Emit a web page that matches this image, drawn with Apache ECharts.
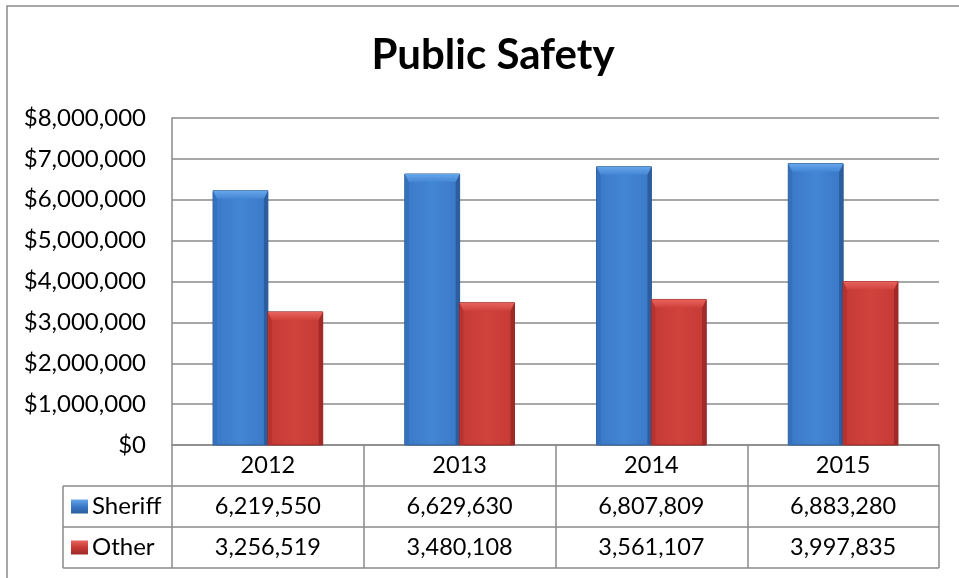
<!DOCTYPE html>
<html>
<head>
<meta charset="utf-8">
<title>Public Safety</title>
<script src="https://cdn.jsdelivr.net/npm/echarts@6/dist/echarts.min.js"></script>
<style>
  html, body { margin: 0; padding: 0; background: #ffffff; }
  #chart { width: 959px; height: 578px; }
</style>
</head>
<body>
<div id="chart"></div>
<script>
// Budget by year
const years = ['2012', '2013', '2014', '2015'];
const seriesNames = ['Sheriff', 'Other'];
const sheriff = [6219550, 6629630, 6807809, 6883280];
const other = [3256519, 3480108, 3561107, 3997835];

// Value axis ticks
const yMin = 0;
const yMax = 8000000;
const yStep = 1000000;

// Layout
const W = 959, H = 578;
const PLOT_LEFT = 172, PLOT_RIGHT = 939, PLOT_TOP = 118, PLOT_BOTTOM = 445;
const ROW_H = 41;
const ROW_HEAD_LEFT = 63;
const FONT = 'Lato, "Open Sans", sans-serif';
const LINE = '#8a8a8a';
const BAR_FRACTION = 0.286;

const fmt = v => v.toLocaleString('en-US');

const palettes = {
  Sheriff: { face: '#3a78c6', faceLight: '#4386d4', left: '#3470bb', right: '#2c5e9f', top: '#66a6ea', edge: '#2b5a93' },
  Other:   { face: '#c53a35', faceLight: '#d0423c', left: '#b8332f', right: '#9f2a27', top: '#e8645e', edge: '#8e2622' }
};

function lin(x1, y1, x2, y2, stops) {
  return { type: 'linear', x: x1, y: y1, x2: x2, y2: y2,
    colorStops: stops.map((c, i) => ({ offset: i / (stops.length - 1), color: c })) };
}

// Bevelled column, placed through the category/value scales
function bevelBar(side, p) {
  return function (params, api) {
    const idx = api.value(0);
    const val = api.value(1);
    const base = api.coord([idx, 0]);
    const top = api.coord([idx, val]);
    const band = api.size([1, 0])[0];
    const w = band * BAR_FRACTION;
    const x = side < 0 ? base[0] - w : base[0];
    const y = top[1];
    const s = 4;   // side bevel
    const t = 8;   // top bevel
    return {
      type: 'group',
      children: [
        { type: 'rect', shape: { x: x, y: y, width: w, height: base[1] - y },
          style: { fill: lin(0, 0, 1, 0, [p.face, p.faceLight, p.face]), stroke: p.edge, lineWidth: 1 } },
        { type: 'polygon', shape: { points: [[x, y], [x + s, y + t], [x + s, base[1]], [x, base[1]]] },
          style: { fill: p.left } },
        { type: 'polygon', shape: { points: [[x + w, y], [x + w - s, y + t], [x + w - s, base[1]], [x + w, base[1]]] },
          style: { fill: p.right } },
        { type: 'polygon', shape: { points: [[x, y], [x + w, y], [x + w - s, y + t], [x + s, y + t]] },
          style: { fill: lin(0, 0, 0, 1, [p.top, p.faceLight]) } }
      ]
    };
  };
}

// Data table rules under the plot
const tableLines = [];
for (let r = 1; r <= 3; r++) {
  tableLines.push({ type: 'line', silent: true,
    shape: { x1: ROW_HEAD_LEFT, y1: PLOT_BOTTOM + r * ROW_H, x2: PLOT_RIGHT, y2: PLOT_BOTTOM + r * ROW_H },
    style: { stroke: LINE, lineWidth: 1.5 } });
}
tableLines.push({ type: 'line', silent: true,
  shape: { x1: ROW_HEAD_LEFT, y1: PLOT_BOTTOM + ROW_H, x2: ROW_HEAD_LEFT, y2: PLOT_BOTTOM + 3 * ROW_H },
  style: { stroke: LINE, lineWidth: 1.5 } });

const chart = echarts.init(document.getElementById('chart'), null, { renderer: 'canvas' });

chart.setOption({
  backgroundColor: '#ffffff',
  animation: false,
  title: {
    text: 'Public Safety',
    left: 488,
    textAlign: 'center',
    top: 29,
    textStyle: { fontFamily: FONT, fontWeight: 'bold', fontSize: 42, color: '#000000' }
  },
  legend: {
    orient: 'vertical',
    left: ROW_HEAD_LEFT + 8,
    top: PLOT_BOTTOM + ROW_H + 8,
    padding: 0,
    itemWidth: 17,
    itemHeight: 14,
    itemGap: ROW_H - 25,
    selectedMode: false,
    textStyle: { fontFamily: FONT, fontSize: 24, color: '#000000', lineHeight: 25, padding: [0, 0, 0, -1] },
    data: seriesNames.map(n => ({
      name: n, icon: 'rect',
      itemStyle: { color: lin(0, 0, 0, 1, [palettes[n].top, palettes[n].face, palettes[n].right]) }
    }))
  },
  grid: {
    left: PLOT_LEFT, right: W - PLOT_RIGHT, top: PLOT_TOP, bottom: H - PLOT_BOTTOM,
    containLabel: false
  },
  xAxis: {
    type: 'category',
    data: years,
    boundaryGap: true,
    axisLine: { show: true, lineStyle: { color: LINE, width: 1.5 } },
    axisTick: { show: true, inside: false, length: 3 * ROW_H, interval: 0, lineStyle: { color: LINE, width: 1.5 } },
    splitLine: { show: false },
    axisLabel: {
      interval: 0,
      margin: 0,
      formatter: (v, i) => `{c|${v}}\n{c|${fmt(sheriff[i])}}\n{c|${fmt(other[i])}}`,
      rich: { c: { fontFamily: FONT, fontSize: 23.5, color: '#000000', lineHeight: ROW_H, align: 'center' } }
    }
  },
  yAxis: {
    type: 'value',
    min: yMin, max: yMax, interval: yStep,
    axisLine: { show: true, lineStyle: { color: LINE, width: 1.5 } },
    axisTick: { show: false },
    splitLine: { show: true, lineStyle: { color: LINE, width: 1.5 } },
    axisLabel: {
      margin: 26,
      formatter: v => '$' + fmt(v),
      fontFamily: FONT, fontSize: 24, color: '#000000'
    }
  },
  graphic: [
    { type: 'rect', silent: true, z: -1,
      shape: { x: 7, y: 6, width: 1000, height: 1000 },
      style: { fill: 'none', stroke: LINE, lineWidth: 1.5 } }
  ].concat(tableLines),
  series: [
    {
      name: 'Sheriff', type: 'custom',
      renderItem: bevelBar(-1, palettes.Sheriff),
      itemStyle: { color: palettes.Sheriff.face },
      encode: { x: 0, y: 1 },
      data: sheriff.map((v, i) => [i, v])
    },
    {
      name: 'Other', type: 'custom',
      renderItem: bevelBar(1, palettes.Other),
      itemStyle: { color: palettes.Other.face },
      encode: { x: 0, y: 1 },
      data: other.map((v, i) => [i, v])
    }
  ]
});
</script>
</body>
</html>
